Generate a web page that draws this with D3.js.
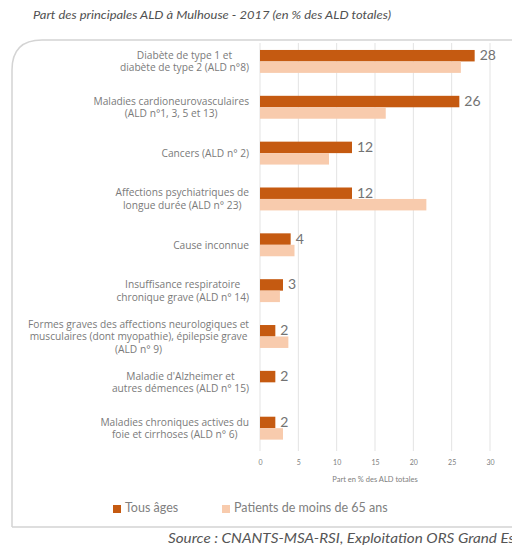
<!DOCTYPE html>
<html>
<head>
<meta charset="utf-8">
<script src="https://cdn.jsdelivr.net/npm/d3@7"></script>
<style>
  html, body { margin: 0; padding: 0; background: #ffffff; }
  svg { display: block; }
</style>
</head>
<body>
<svg id="chart" width="512" height="546"></svg>
<script>
// Principal long-term conditions (ALD) in Mulhouse, 2017, share of all ALD (%)
const categories = [
  ["Diabète de type 1 et", "diabète de type 2 (ALD n°8)"],
  ["Maladies cardioneurovasculaires", "(ALD n°1, 3, 5 et 13)"],
  ["Cancers (ALD n° 2)"],
  ["Affections psychiatriques de", "longue durée (ALD n° 23)"],
  ["Cause inconnue"],
  ["Insuffisance respiratoire", "chronique grave (ALD n° 14)"],
  ["Formes graves des affections neurologiques et", "musculaires (dont myopathie), épilepsie grave", "(ALD n° 9)"],
  ["Maladie d'Alzheimer et", "autres démences (ALD n° 15)"],
  ["Maladies chroniques actives du", "foie et cirrhoses (ALD n° 6)"]
];
const tousAges = [28, 26, 12, 12, 4, 3, 2, 2, 2];
const moins65 = [26.2, 16.4, 9.0, 21.7, 4.5, 2.6, 3.7, 0, 3.0];
const seriesNames = ["Tous âges", "Patients de moins de 65 ans"];
const xTicks = [0, 5, 10, 15, 20, 25, 30];
const titleText = "Part des principales ALD à Mulhouse - 2017 (en % des ALD totales)";
const axisTitle = "Part en % des ALD totales";
const sourceText = "Source : CNANTS-MSA-RSI, Exploitation ORS Grand Est";

const colors = ["#c55a11", "#f8cbad"];
const svg = d3.select("#chart");

// Outer frame with a rounded top-left corner
const fx = 12, fy = 40, fb = 527, r = 30;
svg.append("path")
  .attr("d", `M${fx},${fb} L${fx},${fy + r} Q${fx},${fy} ${fx + r},${fy} L520,${fy} M${fx},${fb} L520,${fb}`)
  .attr("fill", "none")
  .attr("stroke", "#d4d4d4")
  .attr("stroke-width", 1.5);

// Title
svg.append("text")
  .attr("x", 33).attr("y", 19)
  .attr("font-family", "Lato, 'Open Sans', sans-serif")
  .attr("font-style", "italic")
  .attr("font-size", 12)
  .attr("fill", "#505050")
  .attr("textLength", 358)
  .attr("lengthAdjust", "spacingAndGlyphs")
  .text(titleText);

// Scales
const x = d3.scaleLinear().domain([0, 30]).range([260, 490]);
const y = d3.scaleBand()
  .domain(d3.range(categories.length))
  .range([43, 451])
  .paddingInner(0.5)
  .paddingOuter(0.2)
  .align(0.38);
const sub = d3.scaleBand().domain([0, 1]).range([0, y.bandwidth()]);

// Vertical gridlines
svg.append("g").selectAll("line")
  .data(xTicks)
  .join("line")
  .attr("x1", d => x(d)).attr("x2", d => x(d))
  .attr("y1", 43).attr("y2", 451)
  .attr("stroke", "#e3e3e3")
  .attr("stroke-width", 1);

// Axis tick labels via d3 axis
const axis = d3.axisBottom(x).tickValues(xTicks).tickSize(0).tickPadding(0);
const ax = svg.append("g").attr("transform", "translate(0,460)").call(axis);
ax.select(".domain").remove();
ax.selectAll("text")
  .attr("font-family", "Lato, sans-serif")
  .attr("font-size", 7)
  .attr("fill", "#808080");

svg.append("text")
  .attr("x", 375).attr("y", 482)
  .attr("text-anchor", "middle")
  .attr("font-family", "Lato, sans-serif")
  .attr("font-size", 7.5)
  .attr("fill", "#808080")
  .text(axisTitle);

// Bars
const series = [tousAges, moins65];
series.forEach((vals, si) => {
  svg.append("g").selectAll("rect")
    .data(vals)
    .join("rect")
    .attr("x", x(0))
    .attr("y", (d, i) => y(i) + sub(si))
    .attr("width", d => x(d) - x(0))
    .attr("height", sub.bandwidth())
    .attr("fill", colors[si]);
});

// Value labels on the "Tous âges" bars
svg.append("g").selectAll("text")
  .data(tousAges)
  .join("text")
  .attr("x", d => x(d) + 5)
  .attr("y", (d, i) => y(i) + sub(0) + sub.bandwidth() / 2 + 1)
  .attr("dominant-baseline", "middle")
  .attr("font-family", "Lato, sans-serif")
  .attr("font-size", 14)
  .attr("fill", "#737373")
  .text(d => d);

// Category labels: each block sits against the plot, lines centred within it
const lineH = 12.5;
const labelRight = 249;
const labels = svg.append("g").selectAll("text")
  .data(categories)
  .join("text")
  .attr("text-anchor", "middle")
  .attr("font-family", "'Open Sans', sans-serif")
  .attr("font-size", 10.2)
  .attr("fill", "#7a7a7a");
labels.each(function(lines, i) {
  const cy = y(i) + y.bandwidth() / 2 + 1;
  const y0 = cy - (lines.length - 1) * lineH / 2;
  const spans = d3.select(this).selectAll("tspan")
    .data(lines)
    .join("tspan")
    .attr("y", (d, k) => y0 + k * lineH)
    .attr("dominant-baseline", "middle")
    .text(d => d);
  const w = d3.max(spans.nodes(), n => n.getComputedTextLength());
  spans.attr("x", labelRight - w / 2);
});

// Legend
const legendX = [113, 222];
seriesNames.forEach((name, si) => {
  svg.append("rect")
    .attr("x", legendX[si]).attr("y", 505)
    .attr("width", 8).attr("height", 8)
    .attr("fill", colors[si]);
  svg.append("text")
    .attr("x", legendX[si] + 12).attr("y", 509)
    .attr("dominant-baseline", "middle")
    .attr("font-family", "Lato, sans-serif")
    .attr("font-size", 12.5)
    .attr("fill", "#808080")
    .text(name);
});

// Source line
svg.append("text")
  .attr("x", 168).attr("y", 543)
  .attr("font-family", "Lato, sans-serif")
  .attr("font-style", "italic")
  .attr("font-size", 13.5)
  .attr("fill", "#555555")
  .attr("textLength", 352)
  .attr("lengthAdjust", "spacingAndGlyphs")
  .text(sourceText);
</script>
</body>
</html>
